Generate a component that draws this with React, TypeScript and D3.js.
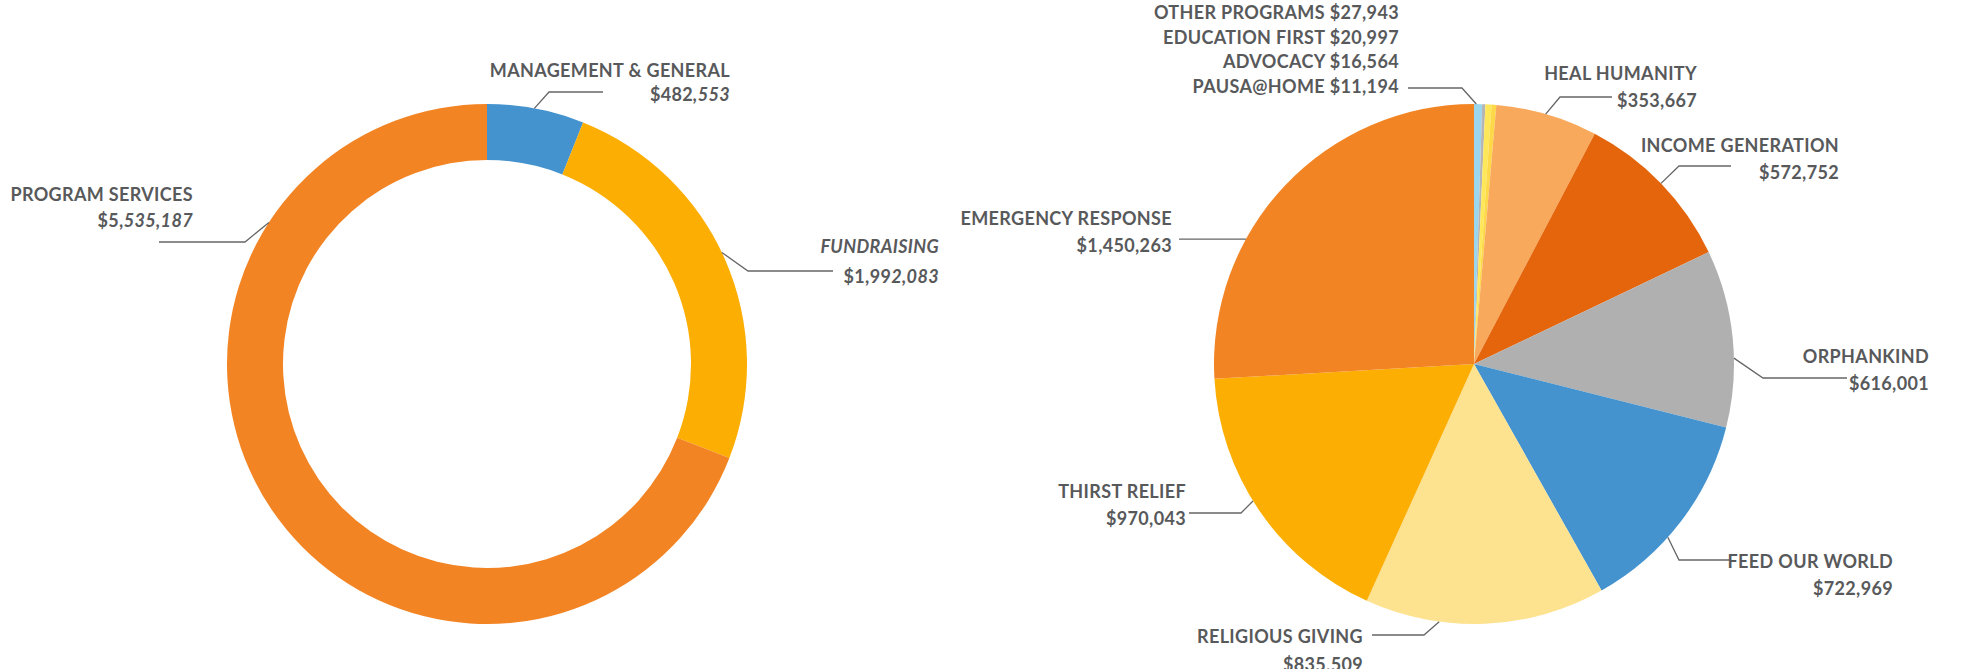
import React from 'react';
import * as d3 from 'd3';

// expenses by function (donut)
const functionNames = ['MANAGEMENT & GENERAL', 'FUNDRAISING', 'PROGRAM SERVICES'];
const functionValues = [482553, 1992083, 5535187];
const functionColors = ['#4493cf', '#fdae02', '#f38423'];

// program spending (pie), clockwise from 12 o'clock
const programNames = [
  'OTHER PROGRAMS', 'PAUSA@HOME', 'EDUCATION FIRST', 'ADVOCACY',
  'HEAL HUMANITY', 'INCOME GENERATION', 'ORPHANKIND', 'FEED OUR WORLD',
  'RELIGIOUS GIVING', 'THIRST RELIEF', 'EMERGENCY RESPONSE',
];
const programValues = [27943, 11194, 20997, 16564, 353667, 572752, 616001, 722969, 835509, 970043, 1450263];
const programColors = [
  '#9bd6ef', '#b5b5b5', '#ffe75a', '#fdd94a',
  '#f9a95b', '#e4650c', '#b0b0b0', '#4493cf',
  '#fde28f', '#fdae02', '#f38423',
];
// the four small ones are stacked as a list above the pie
const smallList = ['OTHER PROGRAMS', 'EDUCATION FIRST', 'ADVOCACY', 'PAUSA@HOME'];

const W = 1987;
const H = 669;
const R = 260;
const donutC = { x: 487, y: 364 };
const pieC = { x: 1474, y: 364 };
const textColor = '#58595b';
const fmt = d3.format('$,');

// label layout: text right edge, baselines, leader anchor angle (deg), elbow, end x
const donutLabels = [
  { name: 'MANAGEMENT & GENERAL', x: 730, y1: 77, y2: 101, angle: 10.5, elbow: [549, 92], endX: 603, upright: 4, nameItalic: false },
  { name: 'FUNDRAISING', x: 939, y1: 253, y2: 283, angle: 64.6, elbow: [748, 271], endX: 833, upright: 5, nameItalic: true },
  { name: 'PROGRAM SERVICES', x: 193, y1: 201, y2: 227, angle: 303, elbow: [245, 242], endX: 159, upright: 3, nameItalic: false },
];

const pieLabels = [
  { name: 'HEAL HUMANITY', x: 1697, y1: 80, y2: 107, angle: 16, elbow: [1560, 97], endX: 1612 },
  { name: 'INCOME GENERATION', x: 1839, y1: 152, y2: 179, angle: 46, elbow: [1679, 166], endX: 1731 },
  { name: 'ORPHANKIND', x: 1929, y1: 363, y2: 390, angle: 88.7, elbow: [1763, 378], endX: 1847 },
  { name: 'FEED OUR WORLD', x: 1893, y1: 568, y2: 595, angle: 131.8, elbow: [1679, 560], endX: 1730 },
  { name: 'RELIGIOUS GIVING', x: 1363, y1: 643, y2: 671, angle: 187.7, elbow: [1424, 635], endX: 1372 },
  { name: 'THIRST RELIEF', x: 1186, y1: 498, y2: 525, angle: 238.2, elbow: [1241, 513], endX: 1189 },
  { name: 'EMERGENCY RESPONSE', x: 1172, y1: 225, y2: 252, angle: 298.7, elbow: null, endX: 1179 },
];
const smallLayout = { x: 1399, y0: 19, step: 24.6, angle: 0.5, elbow: [1462, 88], endX: 1408 };

const rad = (deg: number) => (deg * Math.PI) / 180;
const onArc = (c: { x: number; y: number }, deg: number, r: number) => [c.x + r * Math.sin(rad(deg)), c.y - r * Math.cos(rad(deg))];

const leader = (c: { x: number; y: number }, deg: number, elbow: number[] | null, endX: number) => {
  const a = onArc(c, deg, R);
  const e = elbow ?? a;
  return d3.line()([a as [number, number], e as [number, number], [endX, e[1]]]) || '';
};

const App: React.FC = () => {
  const pie = d3.pie<number>().sort(null).value(d => d);
  const donutArcs = pie(functionValues);
  const pieArcs = pie(programValues);
  const donutArc = d3.arc<d3.PieArcDatum<number>>().innerRadius(204).outerRadius(R);
  const pieArc = d3.arc<d3.PieArcDatum<number>>().innerRadius(0).outerRadius(R);

  const font = {
    fontFamily: 'Lato, "Open Sans", sans-serif',
    fontWeight: 700,
    fontSize: 18,
    letterSpacing: 0.35,
    fill: textColor,
  };

  return (
    <svg width={W} height={H} style={{ position: 'absolute', left: 0, top: 0, background: '#fff' }}>
      <g transform={`translate(${donutC.x},${donutC.y})`}>
        {donutArcs.map((a, i) => (
          <path key={i} d={donutArc(a) || ''} fill={functionColors[i]} />
        ))}
      </g>
      <g transform={`translate(${pieC.x},${pieC.y})`}>
        {pieArcs.map((a, i) => (
          <path key={i} d={pieArc(a) || ''} fill={programColors[i]} />
        ))}
      </g>

      {/* donut labels */}
      {donutLabels.map(l => {
        const v = fmt(functionValues[functionNames.indexOf(l.name)]);
        return (
          <g key={l.name}>
            <path d={leader(donutC, l.angle, l.elbow, l.endX)} fill="none" stroke="#666" strokeWidth={1.3} />
            <text x={l.x} y={l.y1} textAnchor="end" style={{ ...font, fontStyle: l.nameItalic ? 'italic' : 'normal' }}>{l.name}</text>
            <text x={l.x} y={l.y2} textAnchor="end" style={font}>
              <tspan>{v.slice(0, l.upright)}</tspan>
              <tspan fontStyle="italic">{v.slice(l.upright)}</tspan>
            </text>
          </g>
        );
      })}

      {/* pie labels */}
      {pieLabels.map(l => {
        const v = fmt(programValues[programNames.indexOf(l.name)]);
        return (
          <g key={l.name}>
            <path d={leader(pieC, l.angle, l.elbow, l.endX)} fill="none" stroke="#666" strokeWidth={1.3} />
            <text x={l.x} y={l.y1} textAnchor="end" style={font}>{l.name}</text>
            <text x={l.x} y={l.y2} textAnchor="end" style={font}>{v}</text>
          </g>
        );
      })}

      <path d={leader(pieC, smallLayout.angle, smallLayout.elbow, smallLayout.endX)} fill="none" stroke="#666" strokeWidth={1.3} />
      {smallList.map((n, i) => (
        <text key={n} x={smallLayout.x} y={smallLayout.y0 + i * smallLayout.step} textAnchor="end" style={font}>
          {n} {fmt(programValues[programNames.indexOf(n)])}
        </text>
      ))}
    </svg>
  );
};

export default App;
